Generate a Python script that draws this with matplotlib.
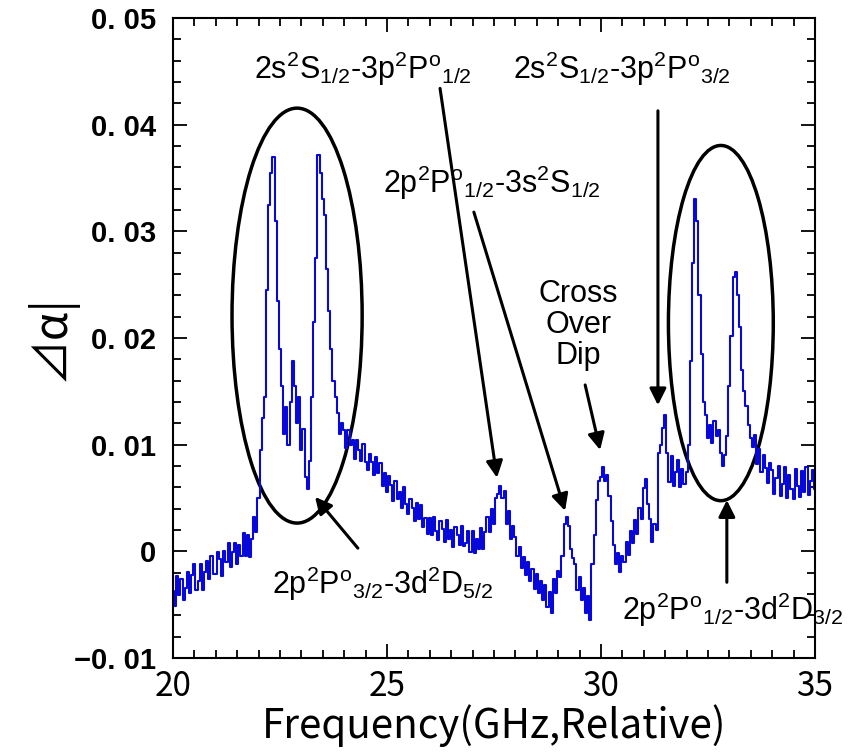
import numpy as np
import matplotlib
matplotlib.use('Agg')
import matplotlib.pyplot as plt
from matplotlib.patches import Ellipse
from matplotlib.ticker import MultipleLocator

plt.rcParams['mathtext.default'] = 'regular'

# Частота (ГГц, отн.) и сигнал в единицах 1e-3
freq = np.round(np.arange(20.0, 35.0001, 0.05), 2)
signal_milli = [
    # 20.00 - 20.95
    -3.7, -5.1, -2.3, -4.1, -2.6, -4.6, -3.4, -1.9, -3.9, -2.2,
    -1.2, -3.6, -2.8, -1.2, -3.6, -1.9, -0.9, -2.6, -0.4, -2.1,
    # 21.00 - 21.95
    -2.1, -0.1, -0.7, -2.3, 0.0, -1.0, 0.8, -1.5, -0.1, 0.8,
    -1.2, 0.6, -0.4, 1.7, -0.4, 1.5, -0.5, 1.2, 3.2, 1.8,
    # 22.00 - 22.95
    5.0, 9.5, 12.5, 14.5, 24.5, 32.5, 35.5, 37.0, 31.0, 23.5,
    19.0, 15.5, 11.0, 13.5, 10.0, 14.0, 17.8, 15.5, 12.0, 14.5,
    # 23.00 - 23.95
    9.5, 11.5, 7.0, 5.8, 8.5, 14.5, 21.5, 27.5, 37.2, 35.5,
    33.0, 31.5, 26.5, 22.5, 19.0, 16.0, 14.5, 13.0, 11.0, 12.0,
    # 24.00 - 24.95
    11.4, 9.7, 11.4, 10.0, 10.4, 8.7, 10.4, 9.5, 8.5, 10.1,
    8.4, 7.6, 9.1, 8.4, 7.2, 8.8, 7.3, 8.3, 6.1, 7.3,
    # 25.00 - 25.95
    5.6, 7.1, 6.2, 4.7, 6.6, 4.9, 5.6, 4.1, 6.0, 4.4,
    3.5, 4.9, 4.1, 2.8, 4.5, 3.0, 4.3, 2.3, 3.1, 1.6,
    # 26.00 - 26.95
    3.1, 1.5, 3.2, 1.9, 1.1, 2.8, 2.1, 0.9, 2.9, 1.2,
    2.0, 0.4, 2.3, 1.5, 0.6, 2.4, 0.5, 0.8, 1.9, -0.1,
    # 27.00 - 27.95
    1.9, -0.2, 1.2, 0.2, 2.2, 0.2, 1.8, 3.2, 1.8, 4.0,
    2.6, 5.0, 5.4, 6.1, 5.0, 5.7, 2.6, 3.8, 1.2, 2.4,
    # 28.00 - 28.95
    1.3, -0.4, 0.4, -1.6, -0.5, -2.2, -1.0, -2.8, -1.7, -3.5,
    -2.1, -3.9, -2.8, -4.6, -3.2, -5.2, -3.8, -5.8, -2.6, -3.9,
    # 29.00 - 29.95
    -1.8, -2.4, -0.4, 2.6, 3.2, 2.4, 0.2, -0.6, -1.2, -3.6,
    -2.4, -4.6, -3.4, -5.8, -4.2, -6.4, -1.2, 1.5, 4.8, 6.6,
    # 30.00 - 30.95
    7.0, 7.9, 6.6, 7.2, 5.2, 2.8, 0.6, -1.2, -0.2, -1.9,
    -0.4, -1.0, 0.9, -0.3, 1.9, 0.8, 2.9, 1.6, 4.1, 3.0,
    # 31.00 - 31.95
    5.9, 6.8, 4.4, 3.0, 0.9, 2.6, 2.0, 9.2, 10.0, 11.6,
    12.8, 9.2, 6.5, 8.9, 6.1, 7.4, 8.6, 6.0, 7.7, 6.3,
    # 32.00 - 32.95
    7.4, 10.0, 17.8, 27.0, 33.0, 31.0, 24.0, 18.5, 14.0, 12.8,
    10.6, 11.8, 10.2, 12.2, 10.8, 11.4, 9.2, 8.0, 9.0, 10.8,
    # 33.00 - 33.95
    15.5, 20.2, 25.7, 26.2, 24.0, 21.0, 17.0, 15.0, 13.6, 11.8,
    10.6, 9.8, 10.9, 8.2, 9.6, 7.4, 9.0, 7.8, 6.4, 8.3,
    # 34.00 - 35.00
    7.6, 5.4, 6.9, 8.0, 5.2, 6.3, 7.9, 5.0, 7.2, 5.8,
    4.9, 7.7, 6.1, 5.1, 7.5, 5.6, 7.9, 5.3, 6.6, 7.6,
    5.8,
]
signal = np.array(signal_milli) / 1000.0

# Подписи переходов: текст, позиция текста, хвост и острие стрелки
labels = [
    r"2s$^2$S$_{1/2}$-3p$^2$P$^{o}{}_{1/2}$",
    r"2p$^2$P$^{o}{}_{1/2}$-3s$^2$S$_{1/2}$",
    "Cross\nOver\nDip",
    r"2s$^2$S$_{1/2}$-3p$^2$P$^{o}{}_{3/2}$",
    r"2p$^2$P$^{o}{}_{3/2}$-3d$^2$D$_{5/2}$",
    r"2p$^2$P$^{o}{}_{1/2}$-3d$^2$D$_{3/2}$",
]
label_xy = [(24.43, 0.0452), (27.45, 0.0345), (29.48, 0.0212),
            (30.5, 0.0452), (24.9, -0.0030), (33.08, -0.0055)]
arrow_tail = [(26.24, 0.0434), (27.03, 0.0318), (29.63, 0.0156),
              (31.33, 0.0413), (24.32, 0.0003), (32.94, -0.0029)]
arrow_head = [(27.57, 0.0069), (29.16, 0.0038), (29.98, 0.0095),
              (31.33, 0.0137), (23.32, 0.0051), (32.94, 0.0048)]

ellipse_center = [(22.9, 0.0221), (32.8, 0.0214)]
ellipse_size = [(3.04, 0.0389), (2.45, 0.0333)]

fig = plt.figure(figsize=(8.52, 7.56), dpi=100)
ax = fig.add_axes([0.203, 0.1296, 0.7536, 0.8466])

ax.plot(freq, signal, color='#0808d8', lw=1.5, drawstyle='steps-mid')

for c, (w, h) in zip(ellipse_center, ellipse_size):
    ax.add_patch(Ellipse(c, w, h, fill=False, ec='black', lw=2.5))

for txt, xy, tail, head in zip(labels, label_xy, arrow_tail, arrow_head):
    ax.annotate('', xy=head, xytext=tail,
                arrowprops=dict(arrowstyle='-|>', color='black', lw=2.2,
                                mutation_scale=25, shrinkA=0, shrinkB=0))
    ax.text(xy[0], xy[1], txt, ha='center', va='center', fontsize=22,
            family='Liberation Sans', linespacing=1.05)

ax.set_xlim(20, 35)
ax.set_ylim(-0.01, 0.05)
ax.xaxis.set_major_locator(MultipleLocator(5))
ax.xaxis.set_minor_locator(MultipleLocator(0.5))
ax.yaxis.set_major_locator(MultipleLocator(0.01))
ax.yaxis.set_minor_locator(MultipleLocator(0.002))
ax.tick_params(which='both', direction='in', top=True, right=True, width=1.3)
ax.tick_params(which='major', length=10)
ax.tick_params(which='minor', length=6)
for s in ax.spines.values():
    s.set_linewidth(1.5)

yticks = [-0.01, 0, 0.01, 0.02, 0.03, 0.04, 0.05]
ax.set_yticks(yticks)
ax.set_yticklabels(['\u22120. 01', '0', '0. 01', '0. 02', '0. 03', '0. 04', '0. 05'],
                   family='Liberation Sans', fontweight='bold', fontsize=21)
ax.set_xticks([20, 25, 30, 35])
ax.set_xticklabels(['20', '25', '30', '35'], family='Noto Sans CJK JP', fontsize=24)
ax.tick_params(axis='y', pad=12)
ax.tick_params(axis='x', pad=8)

ax.set_xlabel('Frequency(GHz,Relative)', family=['Noto Sans CJK JP', 'DejaVu Sans'],
              fontsize=29, labelpad=0)
ax.set_ylabel('\u22bf\u03b1|', family=['Noto Sans CJK JP', 'DejaVu Sans'],
              fontsize=33, labelpad=-2)

fig.savefig('out.png', dpi=100)
